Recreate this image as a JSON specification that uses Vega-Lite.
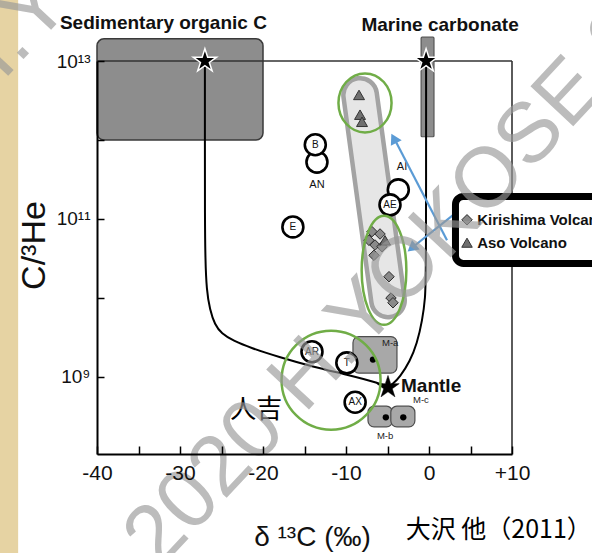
{
  "$schema": "https://vega.github.io/schema/vega-lite/v6.json",
  "width": 415,
  "height": 393,
  "autosize": {"type": "none"},
  "padding": {"left": 97, "top": 61, "right": 80, "bottom": 99},
  "background": "#e6d3a3",
  "config": {
    "view": {"stroke": null},
    "font": "Liberation Sans",
    "axis": {"domainColor": "#000", "domainWidth": 2, "tickColor": "#000", "tickWidth": 1.5, "labelColor": "#111", "labelFont": "Liberation Sans", "titleFont": "Liberation Sans", "titleColor": "#111", "grid": false, "labelFlush": false, "labelOverlap": false}
  },
  "datasets": {
    "bg": [{"x": -49.5, "x2": 30, "y": 10000, "y2": 1e17}],
    "sedbox": [{"x": -40, "x2": -20, "y": 1e12, "y2": 1.91e13}],
    "marbar": [{"x": -0.95, "x2": 0.6, "y": 1.1e12, "y2": 2.0e13}],
    "band": [{"x": -8.3, "y": 3.72e12}, {"x": -4.94, "y": 9.33e9}],
    "frame": [{"x": -40, "x2": 10, "y": 1e13, "y2": 1e13}, {"x": 10, "x2": 10, "y": 1.06e8, "y2": 1e13}],
    "curves": [
      {"c": "org", "o": 1, "x": -27.0, "y": 1e13},
      {"c": "org", "o": 2, "x": -27.0, "y": 1e12},
      {"c": "org", "o": 3, "x": -27.0, "y": 1e11},
      {"c": "org", "o": 4, "x": -26.95, "y": 3.16e10},
      {"c": "org", "o": 5, "x": -26.8, "y": 1.26e10},
      {"c": "org", "o": 6, "x": -26.4, "y": 7.08e9},
      {"c": "org", "o": 7, "x": -25.8, "y": 4.57e9},
      {"c": "org", "o": 8, "x": -25.0, "y": 3.55e9},
      {"c": "org", "o": 9, "x": -23.6, "y": 2.88e9},
      {"c": "org", "o": 10, "x": -21.5, "y": 2.34e9},
      {"c": "org", "o": 11, "x": -18.0, "y": 1.78e9},
      {"c": "org", "o": 12, "x": -14.0, "y": 1.35e9},
      {"c": "org", "o": 13, "x": -9.9, "y": 1.07e9},
      {"c": "org", "o": 14, "x": -5.9, "y": 8.32e8},
      {"c": "org", "o": 15, "x": -4.94, "y": 7.41e8},
      {"c": "mar", "o": 1, "x": -0.35, "y": 1e13},
      {"c": "mar", "o": 2, "x": -0.35, "y": 2.0e10},
      {"c": "mar", "o": 3, "x": -0.45, "y": 1e10},
      {"c": "mar", "o": 4, "x": -0.8, "y": 5.25e9},
      {"c": "mar", "o": 5, "x": -1.45, "y": 2.63e9},
      {"c": "mar", "o": 6, "x": -2.3, "y": 1.58e9},
      {"c": "mar", "o": 7, "x": -3.5, "y": 1e9},
      {"c": "mar", "o": 8, "x": -4.4, "y": 8.1e8},
      {"c": "mar", "o": 9, "x": -4.94, "y": 7.41e8}
    ],
    "mbox": [
      {"x": -9.16, "x2": -3.86, "y": 1.12e9, "y2": 3.24e9},
      {"x": -7.35, "x2": -4.4, "y": 2.34e8, "y2": 4.27e8},
      {"x": -4.6, "x2": -1.7, "y": 2.34e8, "y2": 4.27e8}
    ],
    "dots": [{"x": -6.75, "y": 1.66e9}, {"x": -5.2, "y": 3.09e8}, {"x": -3.1, "y": 3.09e8}],
    "circles": [
      {"x": -13.5, "y": 5.25e11, "t": ""},
      {"x": -13.7, "y": 8.71e11, "t": "B"},
      {"x": -3.7, "y": 2.34e11, "t": ""},
      {"x": -4.7, "y": 1.51e11, "t": "AE"},
      {"x": -16.4, "y": 7.94e10, "t": "E"},
      {"x": -14.1, "y": 2.09e9, "t": "AR"},
      {"x": -9.9, "y": 1.51e9, "t": "T"},
      {"x": -8.9, "y": 4.79e8, "t": "AX"}
    ],
    "lbl": [{"x": -13.5, "y": 2.69e11, "t": "AN"}, {"x": -3.25, "y": 4.57e11, "t": "AI"}],
    "kiri": [
      {"x": -6.87, "y": 6.92e10}, {"x": -5.9, "y": 6.46e10}, {"x": -7.23, "y": 5.37e10},
      {"x": -6.5, "y": 4.68e10}, {"x": -5.66, "y": 4.47e10}, {"x": -6.63, "y": 3.47e10},
      {"x": -4.82, "y": 1.86e10}, {"x": -4.58, "y": 1.0e10}, {"x": -4.34, "y": 8.71e9}
    ],
    "aso": [{"x": -8.43, "y": 3.72e12}, {"x": -8.31, "y": 2.09e12}, {"x": -8.07, "y": 1.7e12}, {"x": -5.3, "y": 5.37e10}],
    "stars": [{"x": -27.0, "y": 1e13}, {"x": -0.35, "y": 1e13}],
    "mantle": [{"x": -4.94, "y": 7.41e8}],
    "ell_aso": [{"x": -7.71, "y": 2.95e12}],
    "ell_kiri": [{"x": -5.42, "y": 2.24e10}],
    "ell_hito": [{"x": -11.8, "y": 9.12e8}],
    "arrows": [
      {"a": 1, "o": 1, "x": 2.17, "y": 5.37e10}, {"a": 1, "o": 2, "x": -4.3, "y": 1.1e12},
      {"a": 2, "o": 1, "x": 2.89, "y": 1.12e11}, {"a": 2, "o": 2, "x": -2.2, "y": 4.2e10}
    ],
    "head1": [{"x": -4.24, "y": 1.05e12}],
    "head2": [{"x": -2.08, "y": 4.27e10}],
    "legbox": [{"x": 3.19, "x2": 23, "y": 2.74e10, "y2": 1.93e11}],
    "legdia": [{"x": 4.58, "y": 9.77e10}],
    "legtri": [{"x": 4.58, "y": 5.01e10}],
    "legtxt": [{"x": 5.8, "y": 9.77e10, "t": "Kirishima Volcano"}, {"x": 5.8, "y": 5.01e10, "t": "Aso Volcano"}],
    "titles": [{"x": -32.0, "y": 3.02e13, "t": "Sedimentary organic C"}, {"x": 1.33, "y": 2.88e13, "t": "Marine carbonate"}],
    "mtext": [{"x": -3.37, "y": 7.76e8, "t": "Mantle"}],
    "mlabels": [{"x": -5.66, "y": 2.69e9, "t": "M-a"}, {"x": -1.93, "y": 5.13e8, "t": "M-c"}, {"x": -6.27, "y": 1.78e8, "t": "M-b"}],
    "hito": [{"x": -20.8, "y": 3.8e8, "t": "人吉"}],
    "cite": [{"x": 8.4, "y": 1.15e7, "t": "大沢  他（2011）"}],
    "wm": [
      {"x": -32.5, "y": 3.6e6, "t": "2020 H.YOKOSE 2020 H.YOKOSE"},
      {"x": -72, "y": 2.6e10, "t": "2020 H.YOKOSE 2020 H.YOKOSE"}
    ]
  },
  "encoding": {
    "x": {
      "field": "x", "type": "quantitative",
      "scale": {"domain": [-40, 10], "nice": false, "zero": false},
      "axis": {
        "zindex": 2,
        "values": [-40, -35, -30, -25, -20, -15, -10, -5, 0, 5, 10],
        "labelExpr": "datum.value % 10 == 0 ? (datum.value > 0 ? '+' + datum.value : '' + datum.value) : ''",
        "title": "δ ¹³C (‰)", "titleFontSize": 28, "titleFontWeight": "normal",
        "titleX": 215, "titleY": 91, "titleBaseline": "alphabetic", "titleAlign": "center",
        "tickSize": -8, "labelPadding": 16, "labelFontSize": 21
      }
    },
    "y": {
      "field": "y", "type": "quantitative",
      "scale": {"type": "log", "domain": [1.06e8, 1e13], "nice": false},
      "axis": {
        "zindex": 2,
        "values": [1e9, 1e10, 1e11, 1e12, 1e13],
        "labelExpr": "datum.value == 1e13 ? '10¹³' : datum.value == 1e11 ? '10¹¹' : datum.value == 1e9 ? '10⁹' : ''",
        "title": "C/³He", "titleFontSize": 34, "titleFontWeight": "normal", "titleAngle": -90,
        "titleX": -53, "titleY": 184, "titleAlign": "center", "titleBaseline": "alphabetic",
        "tickSize": -7, "labelPadding": 14, "labelFontSize": 19
      }
    }
  },
  "layer": [
    {"data": {"name": "bg"}, "mark": {"type": "rect", "fill": "white"}, "encoding": {"x2": {"field": "x2"}, "y2": {"field": "y2"}}},
    {"data": {"name": "sedbox"}, "mark": {"type": "rect", "fill": "#8d8d8d", "stroke": "#3a3a3a", "strokeWidth": 1.5, "cornerRadius": 7}, "encoding": {"x2": {"field": "x2"}, "y2": {"field": "y2"}}},
    {"data": {"name": "marbar"}, "mark": {"type": "rect", "fill": "#8d8d8d", "stroke": "#555", "strokeWidth": 1.2, "cornerRadius": 1}, "encoding": {"x2": {"field": "x2"}, "y2": {"field": "y2"}}},
    {"data": {"name": "band"}, "mark": {"type": "line", "color": "#a3a3a3", "strokeWidth": 38, "strokeCap": "round"}, "encoding": {}},
    {"data": {"name": "band"}, "mark": {"type": "line", "color": "#e6e6e6", "strokeWidth": 29, "strokeCap": "round"}, "encoding": {}},
    {"data": {"name": "frame"}, "mark": {"type": "rule", "color": "#333", "strokeWidth": 1.6}, "encoding": {"x2": {"field": "x2"}, "y2": {"field": "y2"}}},
    {"data": {"name": "curves"}, "mark": {"type": "line", "color": "#000", "strokeWidth": 2, "interpolate": "basis"}, "encoding": {"detail": {"field": "c"}, "order": {"field": "o", "type": "quantitative"}}},
    {"data": {"name": "mbox"}, "mark": {"type": "rect", "fill": "#a8a8a8", "stroke": "#4d4d4d", "strokeWidth": 1.2, "cornerRadius": 6}, "encoding": {"x2": {"field": "x2"}, "y2": {"field": "y2"}}},
    {"data": {"name": "dots"}, "mark": {"type": "point", "shape": "circle", "filled": true, "color": "#000", "size": 40, "opacity": 1}},
    {"data": {"name": "circles"}, "mark": {"type": "point", "shape": "circle", "size": 440, "fill": "white", "stroke": "#000", "strokeWidth": 2.6, "opacity": 1}},
    {"data": {"name": "circles"}, "mark": {"type": "text", "fontSize": 10, "color": "#111", "baseline": "middle", "align": "center"}, "encoding": {"text": {"field": "t"}}},
    {"data": {"name": "lbl"}, "mark": {"type": "text", "fontSize": 11, "color": "#111", "baseline": "middle", "align": "center"}, "encoding": {"text": {"field": "t"}}},
    {"data": {"name": "kiri"}, "mark": {"type": "point", "shape": "diamond", "size": 110, "fill": "#8a8a8a", "stroke": "#2a2a2a", "strokeWidth": 1, "opacity": 1}},
    {"data": {"name": "aso"}, "mark": {"type": "point", "shape": "triangle-up", "size": 120, "fill": "#6f6f6f", "stroke": "#333", "strokeWidth": 1, "opacity": 1}},
    {"data": {"name": "stars"}, "mark": {"type": "point", "shape": "M0,-1L0.225,-0.309L0.951,-0.309L0.363,0.118L0.588,0.809L0,0.382L-0.588,0.809L-0.363,0.118L-0.951,-0.309L-0.225,-0.309Z", "size": 600, "fill": "#000", "stroke": "white", "strokeWidth": 1.5, "opacity": 1}},
    {"data": {"name": "mantle"}, "mark": {"type": "point", "shape": "M0,-1L0.225,-0.309L0.951,-0.309L0.363,0.118L0.588,0.809L0,0.382L-0.588,0.809L-0.363,0.118L-0.951,-0.309L-0.225,-0.309Z", "size": 560, "fill": "#000", "stroke": "#000", "strokeWidth": 0.5, "opacity": 1}},
    {"data": {"name": "ell_aso"}, "mark": {"type": "point", "shape": "M0.9,0C0.9,0.552,0.497,1,0,1C-0.497,1,-0.9,0.552,-0.9,0C-0.9,-0.552,-0.497,-1,0,-1C0.497,-1,0.9,-0.552,0.9,0Z", "size": 3481, "filled": false, "stroke": "#70ad47", "strokeWidth": 2.5, "opacity": 1}},
    {"data": {"name": "ell_kiri"}, "mark": {"type": "point", "shape": "M0.41,0C0.41,0.552,0.226,1,0,1C-0.226,1,-0.41,0.552,-0.41,0C-0.41,-0.552,-0.226,-1,0,-1C0.226,-1,0.41,-0.552,0.41,0Z", "size": 11881, "filled": false, "stroke": "#70ad47", "strokeWidth": 2.5, "opacity": 1}},
    {"data": {"name": "ell_hito"}, "mark": {"type": "point", "shape": "circle", "size": 9801, "filled": false, "stroke": "#70ad47", "strokeWidth": 2.5, "opacity": 1}},
    {"data": {"name": "arrows"}, "mark": {"type": "line", "color": "#5b9bd5", "strokeWidth": 2.2}, "encoding": {"detail": {"field": "a"}, "order": {"field": "o", "type": "quantitative"}}},
    {"data": {"name": "head1"}, "mark": {"type": "point", "shape": "triangle-up", "size": 150, "filled": true, "color": "#5b9bd5", "angle": -27.6, "opacity": 1}},
    {"data": {"name": "head2"}, "mark": {"type": "point", "shape": "triangle-up", "size": 150, "filled": true, "color": "#5b9bd5", "angle": 231, "opacity": 1}},
    {"data": {"name": "legbox"}, "mark": {"type": "rect", "fill": "white", "stroke": "#000", "strokeWidth": 7, "cornerRadius": 8}, "encoding": {"x2": {"field": "x2"}, "y2": {"field": "y2"}}},
    {"data": {"name": "legdia"}, "mark": {"type": "point", "shape": "diamond", "size": 110, "fill": "#8a8a8a", "stroke": "#2a2a2a", "strokeWidth": 1, "opacity": 1}},
    {"data": {"name": "legtri"}, "mark": {"type": "point", "shape": "triangle-up", "size": 110, "fill": "#6f6f6f", "stroke": "#333", "strokeWidth": 1, "opacity": 1}},
    {"data": {"name": "legtxt"}, "mark": {"type": "text", "fontSize": 15, "fontWeight": "bold", "color": "#111", "align": "left", "baseline": "middle"}, "encoding": {"text": {"field": "t"}}},
    {"data": {"name": "titles"}, "mark": {"type": "text", "fontSize": 19, "fontWeight": "bold", "color": "#111", "align": "center", "baseline": "middle"}, "encoding": {"text": {"field": "t"}}},
    {"data": {"name": "mtext"}, "mark": {"type": "text", "fontSize": 19, "fontWeight": "bold", "color": "#111", "align": "left", "baseline": "middle"}, "encoding": {"text": {"field": "t"}}},
    {"data": {"name": "mlabels"}, "mark": {"type": "text", "fontSize": 9.5, "color": "#222", "align": "left", "baseline": "middle"}, "encoding": {"text": {"field": "t"}}},
    {"data": {"name": "hito"}, "mark": {"type": "text", "fontSize": 26, "font": "Noto Sans CJK JP", "color": "#000", "align": "center", "baseline": "middle"}, "encoding": {"text": {"field": "t"}}},
    {"data": {"name": "cite"}, "mark": {"type": "text", "fontSize": 25, "font": "Noto Sans CJK JP", "color": "#000", "align": "center", "baseline": "middle"}, "encoding": {"text": {"field": "t"}}},
    {"data": {"name": "wm"}, "mark": {"type": "text", "fontSize": 85, "font": "Liberation Sans", "color": "#999", "opacity": 0.65, "angle": -47, "align": "left", "baseline": "alphabetic"}, "encoding": {"text": {"field": "t"}}}
  ]
}
